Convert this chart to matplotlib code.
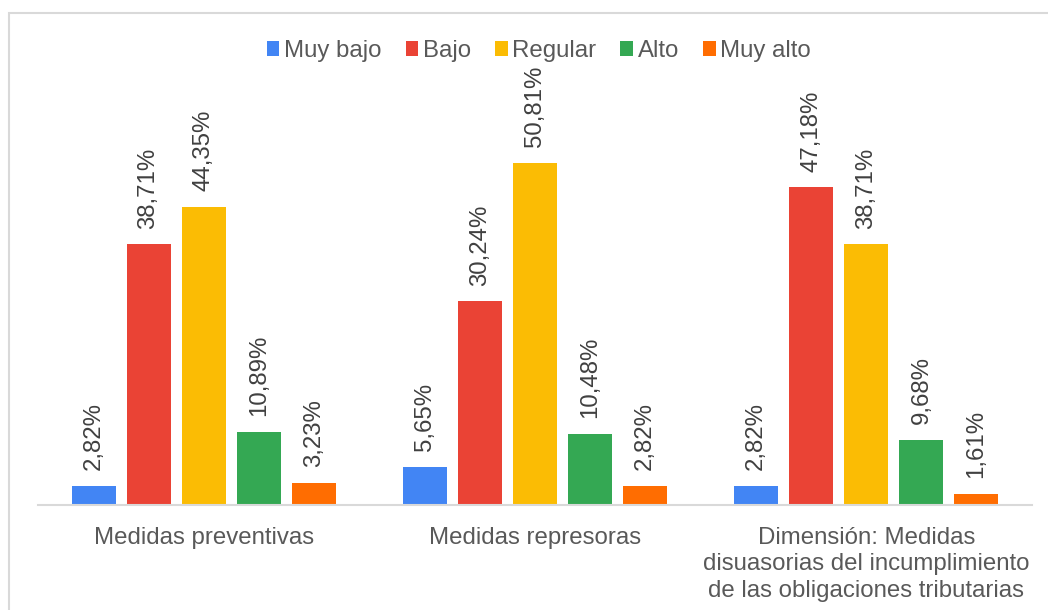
import matplotlib
matplotlib.use("Agg")
import matplotlib.pyplot as plt
from matplotlib.patches import Patch, Rectangle
import numpy as np

categories = ["Medidas preventivas", "Medidas represoras",
              "Dimensión: Medidas\ndisuasorias del incumplimiento\nde las obligaciones tributarias"]
series_names = ["Muy bajo", "Bajo", "Regular", "Alto", "Muy alto"]
muy_bajo = [2.82, 5.65, 2.82]
bajo = [38.71, 30.24, 47.18]
regular = [44.35, 50.81, 38.71]
alto = [10.89, 10.48, 9.68]
muy_alto = [3.23, 2.82, 1.61]
series_values = [muy_bajo, bajo, regular, alto, muy_alto]
colors = ["#4285F4", "#EA4335", "#FBBC04", "#34A853", "#FF6D01"]

plt.rcParams['font.family'] = ['Liberation Sans', 'DejaVu Sans']
text_color = "#595959"
FS = 17.3

W, H = 1048, 610
fig = plt.figure(figsize=(W / 100, H / 100), dpi=100)

# outer border
fig.patches.append(Rectangle((9 / W, -0.05), 1.2, 1 - 13 / H + 0.05,
                             transform=fig.transFigure, fill=False,
                             edgecolor="#D9D9D9", linewidth=1.5))

ax = fig.add_axes([38 / W, (H - 505) / H, 994 / W, 403.8 / H])
x = np.arange(len(categories))
step = 55 / 331
width = 44 / 331
for i, (name, vals, c) in enumerate(zip(series_names, series_values, colors)):
    pos = x + (i - 2) * step
    ax.bar(pos, vals, width=width, color=c, label=name, zorder=2)
    for xp, v in zip(pos, vals):
        ax.annotate(f"{v:.2f}%".replace(".", ","), (xp, v), xytext=(0, 11.5),
                    textcoords="offset points", rotation=90, ha="center",
                    va="bottom", fontsize=FS, color="#404040",
                    annotation_clip=False)

ax.set_xlim(-0.5, 2.5)
ax.set_ylim(0, 60)
for s in ["top", "right", "left"]:
    ax.spines[s].set_visible(False)
ax.spines["bottom"].set_color("#D9D9D9")
ax.spines["bottom"].set_linewidth(1.5)
ax.set_yticks([])
ax.set_xticks(x)
ax.set_xticklabels(categories, fontsize=FS, color=text_color, linespacing=1.28)
ax.tick_params(axis="x", length=0, pad=15.5)

handles = [Patch(facecolor=c, edgecolor="none", label=n) for n, c in zip(series_names, colors)]
fig.legend(handles=handles, loc="center", bbox_to_anchor=(539 / W, 1 - 51 / H),
           ncol=5, frameon=False, fontsize=FS, handlelength=0.52,
           handleheight=0.55, handletextpad=0.2, columnspacing=1.0,
           labelcolor=text_color, borderpad=0)

fig.savefig("out.png", dpi=100)
